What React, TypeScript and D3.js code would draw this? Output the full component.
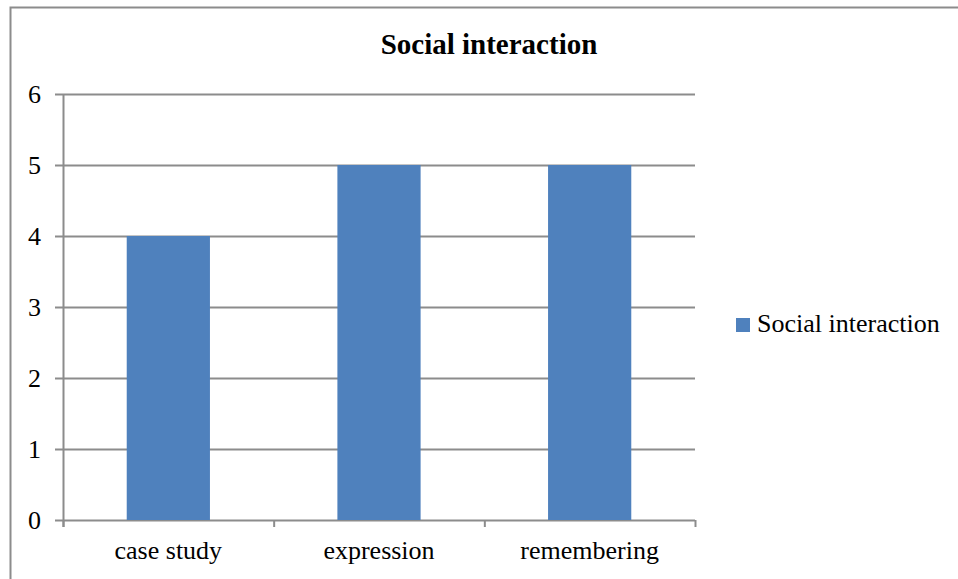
import React, { useEffect, useRef } from 'react';
import * as d3 from 'd3';

const categories = ['case study', 'expression', 'remembering'];
const values = [4, 5, 5];
const seriesName = 'Social interaction';
const yTicks = [0, 1, 2, 3, 4, 5, 6];

const W = 958;
const H = 579;
const margin = { left: 63, top: 94, right: 695, bottom: 520 };
const font = '"Liberation Serif", "Times New Roman", serif';
const barColor = '#4F81BD';
const gridColor = '#8c8c8c';

const App: React.FC = () => {
  const ref = useRef<SVGSVGElement | null>(null);

  useEffect(() => {
    if (!ref.current) return;
    const svg = d3.select(ref.current);
    svg.selectAll('*').remove();

    // outer frame (right/bottom edges fall outside the picture)
    svg
      .append('rect')
      .attr('x', 10.5)
      .attr('y', 7.5)
      .attr('width', W + 10)
      .attr('height', H + 10)
      .attr('fill', 'white')
      .attr('stroke', '#8c8c8c')
      .attr('stroke-width', 2);

    const x = d3
      .scaleBand<string>()
      .domain(categories)
      .range([margin.left, margin.right])
      .paddingInner(0)
      .paddingOuter(0);

    const y = d3.scaleLinear().domain([0, 6]).range([margin.bottom, margin.top]);

    // gridlines
    svg
      .append('g')
      .selectAll('line')
      .data(yTicks)
      .join('line')
      .attr('x1', margin.left - 8)
      .attr('x2', margin.right)
      .attr('y1', (d) => Math.round(y(d)) + 0.5)
      .attr('y2', (d) => Math.round(y(d)) + 0.5)
      .attr('stroke', gridColor)
      .attr('stroke-width', 2);

    // y tick labels
    svg
      .append('g')
      .selectAll('text')
      .data(yTicks)
      .join('text')
      .attr('x', margin.left - 22)
      .attr('y', (d) => y(d))
      .attr('dy', '0.33em')
      .attr('text-anchor', 'end')
      .attr('font-family', font)
      .attr('font-size', 26)
      .text((d) => d);

    // bars
    const barFrac = 0.395;
    svg
      .append('g')
      .selectAll('rect')
      .data(values)
      .join('rect')
      .attr('x', (_, i) => x(categories[i])! + (x.bandwidth() * (1 - barFrac)) / 2)
      .attr('width', x.bandwidth() * barFrac)
      .attr('y', (d) => y(d))
      .attr('height', (d) => y(0) - y(d))
      .attr('fill', barColor);

    // y axis line
    svg
      .append('line')
      .attr('x1', margin.left + 0.5)
      .attr('x2', margin.left + 0.5)
      .attr('y1', margin.top)
      .attr('y2', margin.bottom + 7)
      .attr('stroke', gridColor)
      .attr('stroke-width', 2);

    // x axis ticks at band edges
    const edges = [...categories.map((c) => x(c)!), margin.right];
    svg
      .append('g')
      .selectAll('line')
      .data(edges)
      .join('line')
      .attr('x1', (d) => d + 0.5)
      .attr('x2', (d) => d + 0.5)
      .attr('y1', margin.bottom)
      .attr('y2', margin.bottom + 7)
      .attr('stroke', gridColor)
      .attr('stroke-width', 2);

    // category labels
    svg
      .append('g')
      .selectAll('text')
      .data(categories)
      .join('text')
      .attr('x', (d) => x(d)! + x.bandwidth() / 2)
      .attr('y', 559)
      .attr('text-anchor', 'middle')
      .attr('font-family', font)
      .attr('font-size', 26)
      .text((d) => d);

    // title
    svg
      .append('text')
      .attr('x', 489)
      .attr('y', 54)
      .attr('text-anchor', 'middle')
      .attr('font-family', font)
      .attr('font-weight', 'bold')
      .attr('font-size', 29)
      .text(seriesName);

    // legend
    const lg = svg.append('g').attr('transform', 'translate(736,318)');
    lg.append('rect').attr('width', 14).attr('height', 14).attr('fill', barColor);
    lg.append('text')
      .attr('x', 21)
      .attr('y', 14)
      .attr('font-family', font)
      .attr('font-size', 26)
      .text(seriesName);
  }, []);

  return (
    <div style={{ position: 'fixed', left: 0, top: 0 }}>
      <svg ref={ref} width={W} height={H} style={{ display: 'block' }} />
    </div>
  );
};

export default App;
